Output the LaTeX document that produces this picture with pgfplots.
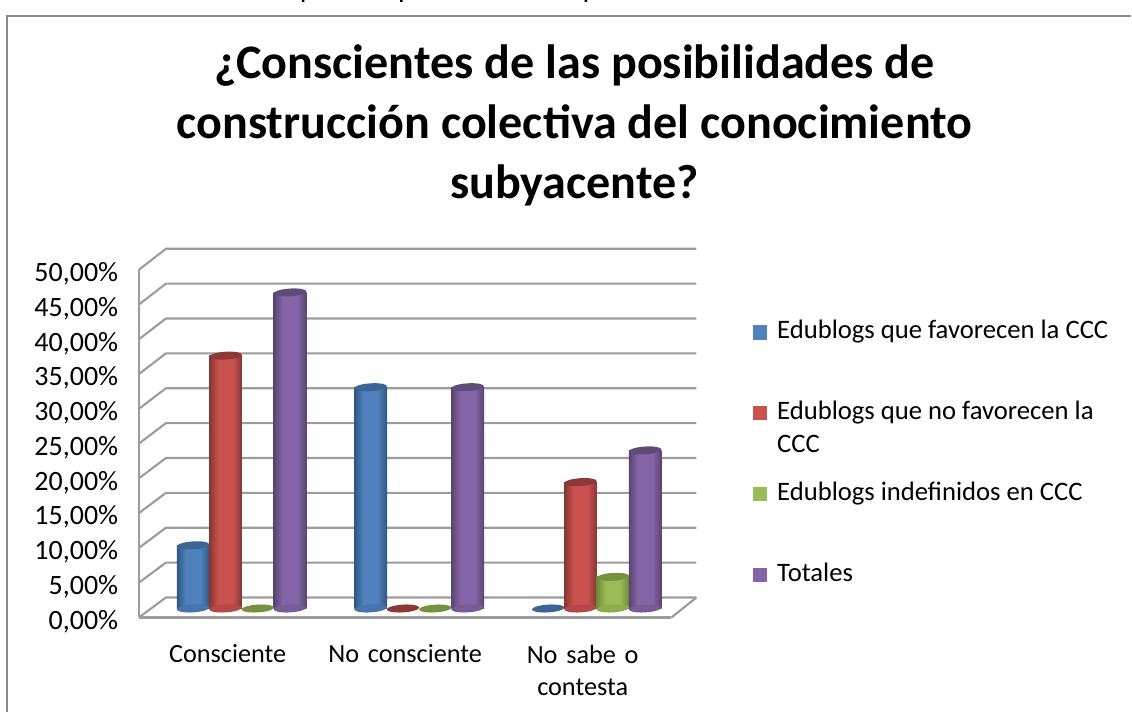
\documentclass[border=0pt]{standalone}
\usepackage{fontspec}
\setmainfont{Carlito}
\usepackage{pgfplots}
\pgfplotsset{compat=1.18}
\usepackage{pgfplotstable}

\definecolor{blueC}{HTML}{4F81BD}\definecolor{blueD}{HTML}{305680}\definecolor{blueT}{HTML}{3A6595}
\definecolor{redC}{HTML}{C9524F}\definecolor{redD}{HTML}{843634}\definecolor{redT}{HTML}{8C3836}
\definecolor{greenC}{HTML}{9BBB59}\definecolor{greenD}{HTML}{6B8A36}\definecolor{greenT}{HTML}{76923C}
\definecolor{purpleC}{HTML}{8466A8}\definecolor{purpleD}{HTML}{584570}\definecolor{purpleT}{HTML}{5F4A79}
\definecolor{frame}{HTML}{8C8C8C}
\definecolor{wall}{HTML}{9C9C9C}

\pgfdeclarehorizontalshading{cylblue}{100bp}{color(0bp)=(blueD); color(25bp)=(blueD); color(39bp)=(blueC); color(61bp)=(blueC); color(75bp)=(blueD); color(100bp)=(blueD)}
\pgfdeclarehorizontalshading{cylred}{100bp}{color(0bp)=(redD); color(25bp)=(redD); color(39bp)=(redC); color(61bp)=(redC); color(75bp)=(redD); color(100bp)=(redD)}
\pgfdeclarehorizontalshading{cylgreen}{100bp}{color(0bp)=(greenD); color(25bp)=(greenD); color(39bp)=(greenC); color(61bp)=(greenC); color(75bp)=(greenD); color(100bp)=(greenD)}
\pgfdeclarehorizontalshading{cylpurple}{100bp}{color(0bp)=(purpleD); color(25bp)=(purpleD); color(39bp)=(purpleC); color(61bp)=(purpleC); color(75bp)=(purpleD); color(100bp)=(purpleD)}

% cylinder top and base, seen from slightly above
\pgfdeclareplotmark{cap}{%
  \pgfpathellipse{\pgfpointorigin}{\pgfqpoint{\pgfplotmarksize}{.06\pgfplotmarksize}}{\pgfqpoint{0pt}{.24\pgfplotmarksize}}%
  \pgfusepathqfill}

\pgfplotstableread{
x y
0 9.09
1 31.82
2 0
}\blogsyes
\pgfplotstableread{
x y
0 36.36
1 0
2 18.18
}\blogsno
\pgfplotstableread{
x y
0 0
1 0
2 4.55
}\blogsind
\pgfplotstableread{
x y
0 45.45
1 31.82
2 22.73
}\totales

% base and shaded body of one bar (a path is shaded as a whole, so one plot per bar)
\newcommand{\body}[4]{%
  \addplot[forget plot, only marks, restrict x to domain=#4:#4, y filter/.expression={0}, mark=cap, mark size=12.2pt, mark options={fill=#2C!70!#2D, draw=none, xshift=#3}] table {#1};
  \addplot[forget plot, ybar, restrict x to domain=#4:#4, bar width=24.6pt, bar shift=#3, draw=none, shade, shading=cyl#2] table {#1};
}
% tops of all bars of a series; a zero value leaves only this flat ellipse
\newcommand{\tops}[3]{%
  \addplot[forget plot, only marks, mark=cap, mark size=12.2pt, mark options={fill=#2, draw=none, xshift=#3}] table {#1};
}

\begin{document}
\begin{tikzpicture}[x=0.75pt,y=-0.75pt]
  \path (0,0) rectangle (1132,713);
  \draw[frame, line width=1.4pt] (7,713) -- (7,16) -- (1132,16);
  % feet of the line of text cut off above the chart
  \fill[black] (302,0) rectangle (304.5,2) (400.5,0) rectangle (403,2) (585,0) rectangle (587.5,2);
  \node[font=\bfseries\fontsize{36.1}{45}\selectfont, align=center, anchor=north] at (575,40)
    {¿Conscientes de las posibilidades de\\construcción colectiva del conocimiento\\subyacente?};

  % walls and floor of the 3D box
  \foreach \k in {0,...,10} {
    \draw[wall, line width=1.6pt] (139,618-34.8*\k) -- (166,598-34.9*\k) -- (697,598-34.9*\k);
  }
  \draw[wall, line width=1.6pt] (672,618) -- (697,598);

  \coordinate (front) at (139,618);
  \coordinate (mid) at (153,609);

  \begin{axis}[
    at={(front)}, anchor=south west,
    scale only axis, width=399.75pt, height=261pt,
    xmin=-0.5, xmax=2.5, ymin=0, ymax=50,
    axis x line*=bottom, axis y line*=left,
    axis line style={wall, line width=1.6pt, -},
    major tick style={draw=none},
    xtick={0,1,2},
    xticklabels={Consciente, No consciente, {No sabe o\\contesta}},
    xticklabel style={font=\fontsize{19.7}{24}\selectfont, align=center, text width=130pt, anchor=north, yshift=-17pt},
    ytick={0,5,...,50},
    yticklabel={\pgfmathprintnumber{\tick}\%},
    yticklabel style={font=\fontsize{21}{24}\selectfont, xshift=-12pt, yshift=-3pt,
      /pgf/number format/.cd, fixed, fixed zerofill, precision=2, use comma, assume math mode=true},
  ]
  \end{axis}

  \begin{axis}[
    at={(mid)}, anchor=south west,
    scale only axis, width=399.75pt, height=261pt,
    xmin=-0.5, xmax=2.5, ymin=0, ymax=50,
    clip=false, hide axis,
    legend style={at={(axis description cs:1.1257,0.8156)}, anchor=north west, draw=none, fill=none,
      font=\fontsize{20}{24}\selectfont, row sep=47pt, inner sep=0pt,
      cells={anchor=base west}, column sep=6pt},
    legend image code/.code={\fill[#1] (0pt,0pt) rectangle (10pt,10pt);},
  ]
    \body{\blogsyes}{blue}{-36.4pt}{0}
    \body{\blogsyes}{blue}{-36.4pt}{1}
    \tops{\blogsyes}{blueT}{-36.4pt}
    \body{\blogsno}{red}{-12.1pt}{0}
    \body{\blogsno}{red}{-12.1pt}{2}
    \tops{\blogsno}{redT}{-12.1pt}
    \body{\blogsind}{green}{12.1pt}{2}
    \tops{\blogsind}{greenT}{12.1pt}
    \body{\totales}{purple}{36.4pt}{0}
    \body{\totales}{purple}{36.4pt}{1}
    \body{\totales}{purple}{36.4pt}{2}
    \tops{\totales}{purpleT}{36.4pt}
    \addlegendimage{blueC}\addlegendentry{\smash{Edublogs que favorecen la CCC}}
    \addlegendimage{redC}\addlegendentry{\smash{\begin{tabular}[t]{@{}l@{}}Edublogs que no favorecen la\\[1pt]CCC\end{tabular}}}
    \addlegendimage{greenC}\addlegendentry{\smash{Edublogs indefinidos en CCC}}
    \addlegendimage{purpleC}\addlegendentry{\smash{Totales}}
  \end{axis}
\end{tikzpicture}
\end{document}
